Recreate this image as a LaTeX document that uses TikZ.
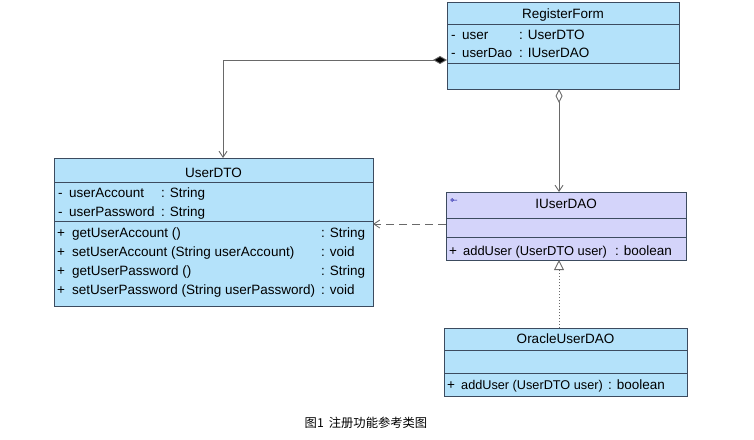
\documentclass[tikz,border=0pt]{standalone}
\usepackage{fontspec}
\setmainfont{Liberation Sans}
\newfontfamily\cjk{Noto Sans CJK SC}
\usetikzlibrary{arrows.meta}
\definecolor{clsfill}{RGB}{180,226,250}
\definecolor{ifill}{RGB}{212,212,250}
\definecolor{clsline}{RGB}{60,75,95}
\definecolor{conn}{RGB}{105,105,105}
\begin{document}
\begin{tikzpicture}[x=1pt,y=-1pt,
  box/.style={draw=clsline, line width=0.8pt, anchor=north west, inner sep=0pt, outer sep=0pt},
  txt/.style={anchor=base west, inner sep=0pt, font=\fontsize{13.5}{15}\selectfont},
  ttl/.style={anchor=base, inner sep=0pt, font=\fontsize{13.5}{15}\selectfont},
  sep/.style={draw=clsline, line width=0.8pt},
  link/.style={draw=conn, line width=0.9pt},
  barb/.style={-{Straight Barb[length=6pt,width=8pt]}}]
\useasboundingbox (0,0) rectangle (754,439);

% RegisterForm
\node[box, fill=clsfill, minimum width=232pt, minimum height=87pt] (rf) at (447,2) {};
\draw[sep] (447,24) -- (679,24);
\draw[sep] (447,63) -- (679,63);
\node[ttl] (rft) at (563,18) {RegisterForm};
\node[txt] (rfa1) at (451,39) {-};
\node[txt] (rfa1n) at (462,39) {user};
\node[txt] (rfa1t) at (519,39) {: UserDTO};
\node[txt] (rfa2) at (451,57) {-};
\node[txt, font=\fontsize{13.2}{15}\selectfont] (rfa2n) at (462,57) {userDao};
\node[txt] (rfa2t) at (519,57) {: IUserDAO};

% UserDTO
\node[box, fill=clsfill, minimum width=319pt, minimum height=148pt] (dto) at (54,158) {};
\draw[sep] (54,182) -- (373,182);
\draw[sep] (54,221) -- (373,221);
\node[ttl] (dtot) at (213.5,177) {UserDTO};
\node[txt] (da1) at (58,197) {-};
\node[txt] (da1n) at (69,197) {userAccount};
\node[txt] (da1t) at (161,197) {: String};
\node[txt] (da2) at (58,216) {-};
\node[txt] (da2n) at (69,216) {userPassword};
\node[txt] (da2t) at (161,216) {: String};
\node[txt] (dm1) at (57,237) {+};
\node[txt] (dm1n) at (72,237) {getUserAccount ()};
\node[txt] (dm1t) at (321,237) {: String};
\node[txt] (dm2) at (57,256) {+};
\node[txt] (dm2n) at (72,256) {setUserAccount (String userAccount)};
\node[txt] (dm2t) at (321,256) {: void};
\node[txt] (dm3) at (57,275) {+};
\node[txt] (dm3n) at (72,275) {getUserPassword ()};
\node[txt] (dm3t) at (321,275) {: String};
\node[txt] (dm4) at (57,294) {+};
\node[txt] (dm4n) at (72,294) {setUserPassword (String userPassword)};
\node[txt] (dm4t) at (321,294) {: void};

% IUserDAO
\node[box, fill=ifill, minimum width=240pt, minimum height=68pt] (idao) at (446,192) {};
\draw[sep] (446,218) -- (686,218);
\draw[sep] (446,237) -- (686,237);
\node[ttl] (idaot) at (566,208) {IUserDAO};
\draw[draw=blue!60!black, line width=0.5pt] (452,200) circle (1.4pt) (453.4,200) -- (457,200);
\node[txt] (im1) at (449,255) {+};
\node[txt, font=\fontsize{12.9}{15}\selectfont] (im1n) at (463,255) {addUser (UserDTO user)};
\node[txt] (im1t) at (615,255) {: boolean};

% OracleUserDAO
\node[box, fill=clsfill, minimum width=243pt, minimum height=68pt] (ora) at (444,328) {};
\draw[sep] (444,350) -- (687,350);
\draw[sep] (444,373) -- (687,373);
\node[ttl] (orat) at (565.5,343) {OracleUserDAO};
\node[txt] (om1) at (447,389) {+};
\node[txt, font=\fontsize{12.7}{15}\selectfont] (om1n) at (461,389) {addUser (UserDTO user)};
\node[txt] (om1t) at (608,389) {: boolean};

% connectors
\coordinate (c1) at (223,60);
\coordinate (c2) at (559,0);
\coordinate (c3) at (0,224);
\draw[link, {Diamond[fill=black,length=14pt,width=8pt]}-{Straight Barb[length=6pt,width=8pt]}]
  (rf.west |- c1) -- (c1) -- (dto.north -| c1);
\draw[link, {Diamond[open,fill=white,length=14pt,width=7pt]}-{Straight Barb[length=6pt,width=8pt]}]
  (rf.south -| c2) -- (idao.north -| c2);
\draw[link, dash pattern=on 8pt off 5pt, barb] (idao.west |- c3) -- (dto.east |- c3);
\draw[link, dash pattern=on 1.5pt off 1.5pt, -{Triangle[open,fill=white,length=10pt,width=10pt]}]
  (ora.north -| c2) -- (idao.south -| c2);

% caption
\node[anchor=base, inner sep=0pt, font=\cjk\fontsize{12.3}{14}\selectfont] (cap) at (366,427) {图1\hspace{5pt}注册功能参考类图};
\end{tikzpicture}
\end{document}
